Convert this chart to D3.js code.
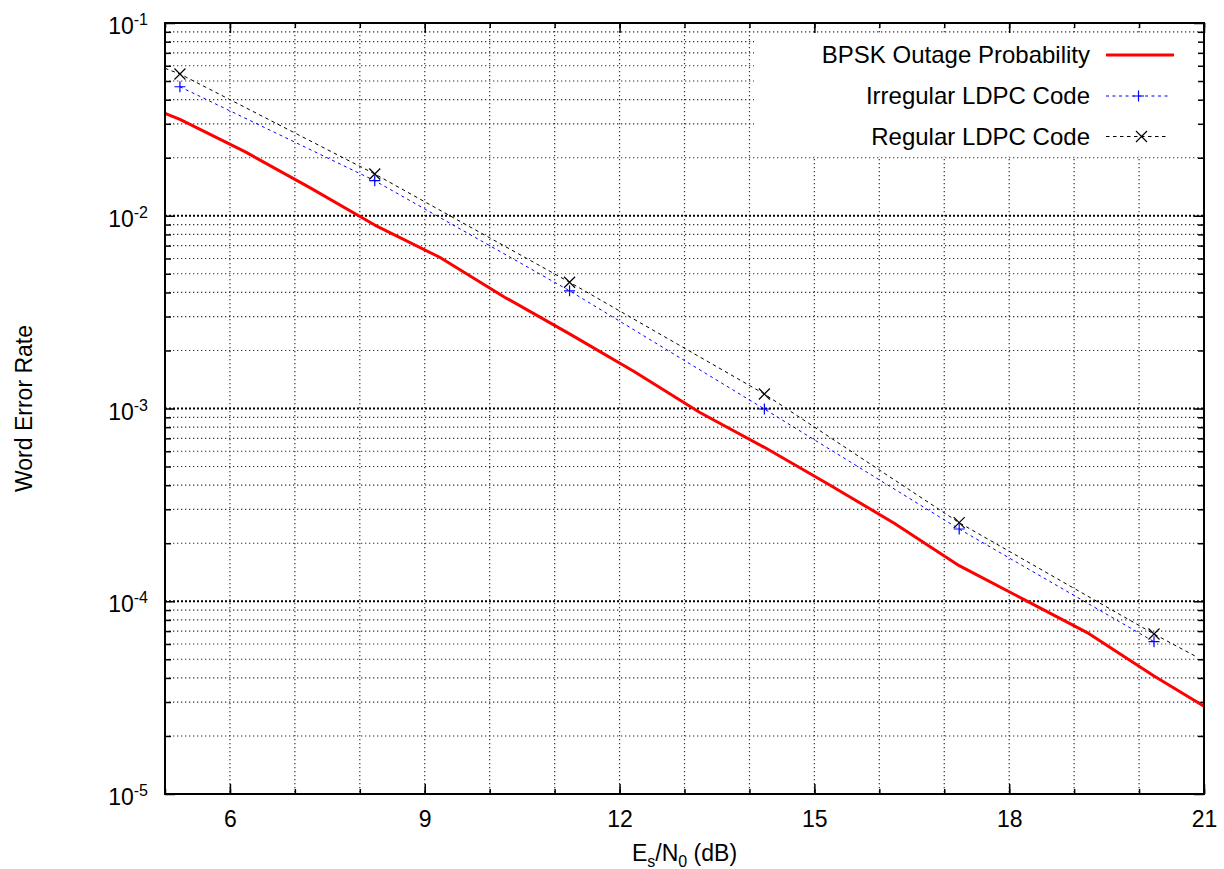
<!DOCTYPE html>
<html>
<head>
<meta charset="utf-8">
<script src="https://cdn.jsdelivr.net/npm/d3@7"></script>
<style>
  body { margin: 0; background: #fff; }
  svg { display: block; font-family: "Liberation Sans", Arial, sans-serif; }
</style>
</head>
<body>
<svg id="chart" width="1224" height="869"></svg>
<script>
// ---- data ----
const seriesNames = ["BPSK Outage Probability", "Irregular LDPC Code", "Regular LDPC Code"];

const outageX = [5.0, 5.23, 6.23, 7.23, 8.23, 9.23, 10.23, 11.23, 12.23, 13.23, 14.23, 15.23, 16.23, 17.23, 18.23, 19.23, 20.23, 21.0];
const outageY = [3.40e-2, 3.16e-2, 2.15e-2, 1.40e-2, 8.95e-3, 6.09e-3, 3.78e-3, 2.44e-3, 1.55e-3, 9.56e-4, 6.29e-4, 4.02e-4, 2.54e-4, 1.53e-4, 1.02e-4, 6.79e-5, 4.09e-5, 2.85e-5];

const irregularX = [5.23, 8.23, 11.23, 14.23, 17.23, 20.23];
const irregularY = [4.67e-2, 1.52e-2, 4.08e-3, 9.94e-4, 2.37e-4, 6.17e-5];

const regularX = [5.0, 5.23, 8.23, 11.23, 14.23, 17.23, 20.23, 20.89];
const regularY = [5.82e-2, 5.44e-2, 1.647e-2, 4.52e-3, 1.189e-3, 2.556e-4, 6.76e-5, 5.14e-5];
const markerX = [5.23, 8.23, 11.23, 14.23, 17.23, 20.23];

const xMajorTicks = [6, 9, 12, 15, 18, 21];
const xMinorTicks = [5, 6, 7, 8, 9, 10, 11, 12, 13, 14, 15, 16, 17, 18, 19, 20, 21];
const yDecades = [1e-5, 1e-4, 1e-3, 1e-2, 1e-1];
const yDecadeExp = ["-5", "-4", "-3", "-2", "-1"];
const xTitle = ["E", "s", "/N", "0", " (dB)"];
const yTitle = "Word Error Rate";

// ---- layout ----
const L = 165, R = 1204, T = 23, B = 794;
const svg = d3.select("#chart");
const x = d3.scaleLinear().domain([5, 21]).range([L, R]);
const y = d3.scaleLog().domain([1e-5, 1e-1]).range([B, T]);

const yMinor = [];
yDecades.slice(0, -1).forEach(d => { for (let k = 2; k <= 9; k++) yMinor.push(d * k); });

// ---- grid ----
const grid = svg.append("g");
grid.selectAll("line.vx").data(xMinorTicks.filter(v => v > 5 && v < 21)).join("line")
  .attr("x1", d => x(d)).attr("x2", d => x(d)).attr("y1", T).attr("y2", B)
  .attr("stroke", "#333").attr("stroke-width", 1.2).attr("stroke-dasharray", "1.3,2.7");
grid.selectAll("line.hm").data(yMinor).join("line")
  .attr("x1", L).attr("x2", R).attr("y1", d => y(d)).attr("y2", d => y(d))
  .attr("stroke", "#333").attr("stroke-width", 1.2).attr("stroke-dasharray", "1.3,2.7");
grid.selectAll("line.hM").data(yDecades.slice(1, -1)).join("line")
  .attr("x1", L).attr("x2", R).attr("y1", d => y(d)).attr("y2", d => y(d))
  .attr("stroke", "#000").attr("stroke-width", 2).attr("stroke-dasharray", "2,2");

// legend background (opaque key)
svg.append("rect").attr("x", 754).attr("y", 33).attr("width", R - 754 - 1).attr("height", 123).attr("fill", "#fff");

// ---- axes ticks ----
function styleAxis(g) {
  g.select(".domain").remove();
  g.selectAll(".tick line").attr("stroke", "#000").attr("stroke-width", 1.5);
}
// bottom
svg.append("g").attr("transform", `translate(0,${B})`)
  .call(d3.axisBottom(x).tickValues(xMinorTicks).tickSizeInner(-5).tickSizeOuter(0).tickFormat(""))
  .call(styleAxis);
const xb = svg.append("g").attr("transform", `translate(0,${B})`)
  .call(d3.axisBottom(x).tickValues(xMajorTicks).tickSizeInner(-10).tickSizeOuter(0).tickPadding(17).tickFormat(d3.format("d")))
  .call(styleAxis);
xb.selectAll("text").attr("font-size", 23).attr("fill", "#000").attr("font-family", "Liberation Sans, Arial, sans-serif");
// top
svg.append("g").attr("transform", `translate(0,${T})`)
  .call(d3.axisTop(x).tickValues(xMinorTicks).tickSizeInner(-5).tickSizeOuter(0).tickFormat(""))
  .call(styleAxis);
svg.append("g").attr("transform", `translate(0,${T})`)
  .call(d3.axisTop(x).tickValues(xMajorTicks).tickSizeInner(-10).tickSizeOuter(0).tickFormat(""))
  .call(styleAxis);
// left
svg.append("g").attr("transform", `translate(${L},0)`)
  .call(d3.axisLeft(y).tickValues(yMinor).tickSizeInner(-6).tickSizeOuter(0).tickFormat(""))
  .call(styleAxis);
const yl = svg.append("g").attr("transform", `translate(${L},0)`)
  .call(d3.axisLeft(y).tickValues(yDecades).tickSizeInner(-10).tickSizeOuter(0).tickPadding(17).tickFormat(""))
  .call(styleAxis);
yl.selectAll(".tick text").each(function(d, i) {
  const t = d3.select(this).attr("dy", null).attr("y", 10.5)
    .attr("font-size", 23).attr("fill", "#000").attr("text-anchor", "end")
    .attr("font-family", "Liberation Sans, Arial, sans-serif");
  t.append("tspan").text("10");
  t.append("tspan").attr("font-size", 16).attr("dy", -9).text(yDecadeExp[i]);
});
// right
svg.append("g").attr("transform", `translate(${R},0)`)
  .call(d3.axisRight(y).tickValues(yMinor).tickSizeInner(-6).tickSizeOuter(0).tickFormat(""))
  .call(styleAxis);
svg.append("g").attr("transform", `translate(${R},0)`)
  .call(d3.axisRight(y).tickValues(yDecades).tickSizeInner(-10).tickSizeOuter(0).tickFormat(""))
  .call(styleAxis);

// ---- clip ----
svg.append("clipPath").attr("id", "clip").append("rect").attr("x", L).attr("y", T).attr("width", R - L).attr("height", B - T);
const plot = svg.append("g").attr("clip-path", "url(#clip)");

const line = d3.line().x(d => x(d[0])).y(d => y(d[1]));

const regData = regularX.map((v, i) => [v, regularY[i]]);
const irrData = irregularX.map((v, i) => [v, irregularY[i]]);
const outData = outageX.map((v, i) => [v, outageY[i]]);

plot.append("path").datum(regData).attr("d", line).attr("fill", "none")
  .attr("stroke", "#000").attr("stroke-width", 1).attr("stroke-dasharray", "3.5,3.5");
plot.append("path").datum(irrData).attr("d", line).attr("fill", "none")
  .attr("stroke", "#0000ff").attr("stroke-width", 1).attr("stroke-dasharray", "3,3.5");
plot.append("path").datum(outData).attr("d", line).attr("fill", "none")
  .attr("stroke", "#ff0000").attr("stroke-width", 3).attr("stroke-linejoin", "round");

function plusPath(cx, cy, s) { return `M${cx - s},${cy}H${cx + s}M${cx},${cy - s}V${cy + s}`; }
function crossPath(cx, cy, s) { return `M${cx - s},${cy - s}L${cx + s},${cy + s}M${cx - s},${cy + s}L${cx + s},${cy - s}`; }

plot.selectAll("path.irrm").data(irrData).join("path")
  .attr("d", d => plusPath(x(d[0]), y(d[1]), 5.5)).attr("stroke", "#0000ff").attr("stroke-width", 1.2).attr("fill", "none");
plot.selectAll("path.regm").data(regData.filter(d => markerX.includes(d[0]))).join("path")
  .attr("d", d => crossPath(x(d[0]), y(d[1]), 5.5)).attr("stroke", "#000").attr("stroke-width", 1.2).attr("fill", "none");

// ---- border ----
svg.append("rect").attr("x", L).attr("y", T).attr("width", R - L).attr("height", B - T)
  .attr("fill", "none").attr("stroke", "#000").attr("stroke-width", 2);

// ---- legend ----
const leg = svg.append("g");
const rowsY = [55, 96, 136.5];
const textR = 1090, sx1 = 1106, sx2 = 1174, mx = 1140;
seriesNames.forEach((n, i) => {
  leg.append("text").attr("x", textR).attr("y", rowsY[i] + 8.3).attr("text-anchor", "end")
    .attr("font-size", 24).attr("fill", "#000").text(n);
});
leg.append("line").attr("x1", sx1).attr("x2", sx2).attr("y1", rowsY[0]).attr("y2", rowsY[0])
  .attr("stroke", "#ff0000").attr("stroke-width", 3);
leg.append("line").attr("x1", sx1).attr("x2", sx2 - 3).attr("y1", rowsY[1]).attr("y2", rowsY[1])
  .attr("stroke", "#0000ff").attr("stroke-width", 1).attr("stroke-dasharray", "3,3.5");
leg.append("path").attr("d", plusPath(mx - 1.5, rowsY[1], 5.5)).attr("stroke", "#0000ff").attr("stroke-width", 1.2);
leg.append("line").attr("x1", sx1).attr("x2", sx2 - 5).attr("y1", rowsY[2]).attr("y2", rowsY[2])
  .attr("stroke", "#000").attr("stroke-width", 1).attr("stroke-dasharray", "3.5,3.5");
leg.append("path").attr("d", crossPath(mx + 1.5, rowsY[2], 5.5)).attr("stroke", "#000").attr("stroke-width", 1.2);

// ---- titles ----
const xt = svg.append("text").attr("x", (L + R) / 2).attr("y", 860.7).attr("text-anchor", "middle")
  .attr("font-size", 23).attr("fill", "#000");
xt.append("tspan").text(xTitle[0]);
xt.append("tspan").attr("font-size", 16).attr("dy", 6).text(xTitle[1]);
xt.append("tspan").attr("dy", -6).text(xTitle[2]);
xt.append("tspan").attr("font-size", 16).attr("dy", 6).text(xTitle[3]);
xt.append("tspan").attr("dy", -6).text(xTitle[4]);

svg.append("text").attr("transform", `translate(31.5,${(T + B) / 2}) rotate(-90)`)
  .attr("text-anchor", "middle").attr("font-size", 23).attr("fill", "#000").text(yTitle);
</script>
</body>
</html>
